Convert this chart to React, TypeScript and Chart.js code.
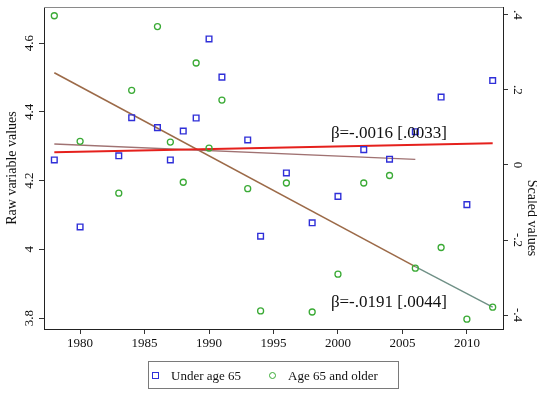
import React, { useEffect, useRef } from "react";
import { Chart, registerables } from "chart.js";

Chart.register(...registerables);

// ---- data ----
const years = [1978, 1980, 1983, 1984, 1986, 1987, 1988, 1989, 1990, 1991, 1993, 1994, 1996, 1998, 2000, 2002, 2004, 2006, 2008, 2010, 2012];
// Under age 65 (raw values, left axis)
const underAge65 = [4.26, 4.065, 4.272, 4.383, 4.354, 4.26, 4.344, 4.382, 4.612, 4.501, 4.318, 4.038, 4.222, 4.077, 4.154, 4.29, 4.262, 4.342, 4.443, 4.13, 4.491];
// Age 65 and older (scaled values, right axis)
const age65AndOlder = [0.398, 0.063, -0.075, 0.199, 0.369, 0.061, -0.046, 0.272, 0.045, 0.173, -0.063, -0.389, -0.048, -0.392, -0.291, -0.048, -0.028, -0.275, -0.22, -0.411, -0.379];

// fitted lines (scaled axis)
const redFitYears = [1978, 2012];
const redFitValues = [0.034, 0.058];
const flatFitYears = [1978, 2006];
const flatFitValues = [0.056, 0.015];
const steepFitYears = [1978, 2006];
const steepFitValues = [0.246, -0.271];
const projFitYears = [2006, 2012];
const projFitValues = [-0.271, -0.379];

// axis ticks
const xTicks = [1980, 1985, 1990, 1995, 2000, 2005, 2010];
const leftTicks = [3.8, 4.0, 4.2, 4.4, 4.6];
const rightTicks = [-0.4, -0.2, 0, 0.2, 0.4];

// annotation texts and their anchor (year, scaled value)
const noteTexts = ["β=-.0016 [.0033]", "β=-.0191 [.0044]"];
const noteYears = [1999.45, 1999.45];
const noteValues = [0.085, -0.367];

const legendLabels = ["Under age 65", "Age 65 and older"];
const leftTitle = "Raw variable values";
const rightTitle = "Scaled values";

const SERIF = '"Liberation Serif", "Times New Roman", Times, serif';
const BLUE = "#2f2fd8";
const GREEN = "#3aaa35";

const pts = (xs: number[], ys: number[]) => xs.map((x, i) => ({ x, y: ys[i] }));

const fmtLeft = (v: number) => (Math.abs(v - Math.round(v)) < 1e-9 ? String(Math.round(v)) : v.toFixed(1));
const fmtRight = (v: number) => {
  if (Math.abs(v) < 1e-9) return "0";
  const s = Math.abs(v).toFixed(1).replace(/^0/, "");
  return (v < 0 ? "-" : "") + s;
};

const overlay = {
  id: "overlay",
  afterDatasetsDraw(chart: any) {
    const { ctx, chartArea: a, scales } = chart;
    ctx.save();
    // top frame line
    ctx.strokeStyle = "#8a8a8a";
    ctx.lineWidth = 1;
    ctx.beginPath();
    ctx.moveTo(a.left, a.top + 0.5);
    ctx.lineTo(a.right, a.top + 0.5);
    ctx.stroke();
    // annotations
    ctx.font = "17px " + SERIF;
    ctx.fillStyle = "#111";
    ctx.textAlign = "left";
    ctx.textBaseline = "middle";
    noteTexts.forEach((t, i) => {
      ctx.fillText(t, scales.x.getPixelForValue(noteYears[i]), scales.y2.getPixelForValue(noteValues[i]));
    });
    // right axis title
    ctx.font = "14px " + SERIF;
    ctx.textAlign = "center";
    ctx.textBaseline = "middle";
    ctx.translate(chart.width - 5, (a.top + a.bottom) / 2 + 50);
    ctx.rotate(Math.PI / 2);
    ctx.fillText(rightTitle, 0, 0);
    ctx.restore();
  },
};

export default function App() {
  const ref = useRef<HTMLCanvasElement | null>(null);

  useEffect(() => {
    document.body.style.margin = "0";
    const canvas = ref.current!;
    const tickFont = { family: SERIF, size: 13 };
    const grid = { drawOnChartArea: false, drawTicks: true, tickLength: 5, color: "#333", lineWidth: 1 };
    const border = { display: true, color: "#222", width: 1 };
    const zeroPad = (s: any) => {
      s.paddingTop = 0;
      s.paddingBottom = 0;
      s.paddingLeft = 0;
      s.paddingRight = 0;
    };

    const chart = new Chart(canvas, {
      type: "scatter",
      data: {
        datasets: [
          {
            label: "red fit",
            data: pts(redFitYears, redFitValues),
            yAxisID: "y2",
            showLine: true,
            borderColor: "#e5201c",
            borderWidth: 2,
            pointRadius: 0,
            order: 3,
          },
          {
            label: "flat fit",
            data: pts(flatFitYears, flatFitValues),
            yAxisID: "y2",
            showLine: true,
            borderColor: "#a07272",
            borderWidth: 1.4,
            pointRadius: 0,
            order: 3,
          },
          {
            label: "steep fit",
            data: pts(steepFitYears, steepFitValues),
            yAxisID: "y2",
            showLine: true,
            borderColor: "#9c6a48",
            borderWidth: 1.6,
            pointRadius: 0,
            order: 3,
          },
          {
            label: "projection",
            data: pts(projFitYears, projFitValues),
            yAxisID: "y2",
            showLine: true,
            borderColor: "#6f9086",
            borderWidth: 1.4,
            pointRadius: 0,
            order: 3,
          },
          {
            label: legendLabels[0],
            data: pts(years, underAge65),
            yAxisID: "y",
            pointStyle: "rect",
            pointRadius: 4,
            pointBorderWidth: 1.4,
            borderColor: BLUE,
            backgroundColor: "rgba(0,0,0,0)",
            order: 1,
          },
          {
            label: legendLabels[1],
            data: pts(years, age65AndOlder),
            yAxisID: "y2",
            pointStyle: "circle",
            pointRadius: 3,
            pointBorderWidth: 1.3,
            borderColor: GREEN,
            backgroundColor: "rgba(0,0,0,0)",
            order: 2,
          },
        ],
      },
      options: {
        animation: false,
        responsive: false,
        events: [],
        layout: { padding: { top: 7, left: 0, right: 0, bottom: 0 } },
        plugins: { legend: { display: false }, tooltip: { enabled: false } },
        scales: {
          x: {
            type: "linear",
            position: "bottom",
            min: 1977.2,
            max: 2012.8,
            afterBuildTicks: (s: any) => {
              s.ticks = xTicks.map((v) => ({ value: v }));
            },
            afterFit: (s: any) => {
              s.height = 65;
              zeroPad(s);
            },
            ticks: {
              font: tickFont,
              color: "#111",
              padding: 2,
              maxRotation: 0,
              autoSkip: false,
              callback: (v: any) => String(v),
            },
            grid,
            border,
          },
          y: {
            type: "linear",
            position: "left",
            min: 3.768,
            max: 4.705,
            afterBuildTicks: (s: any) => {
              s.ticks = leftTicks.map((v) => ({ value: v }));
            },
            afterFit: (s: any) => {
              s.width = 44;
              zeroPad(s);
            },
            ticks: {
              font: tickFont,
              color: "#111",
              padding: 1,
              minRotation: 90,
              maxRotation: 90,
              crossAlign: "center",
              autoSkip: false,
              callback: (v: any) => fmtLeft(Number(v)),
            },
            title: {
              display: true,
              text: leftTitle,
              font: { family: SERIF, size: 14 },
              color: "#111",
              padding: { top: 4, bottom: 0 },
            },
            grid,
            border,
          },
          y2: {
            type: "linear",
            position: "right",
            min: -0.4373,
            max: 0.4213,
            afterBuildTicks: (s: any) => {
              s.ticks = rightTicks.map((v) => ({ value: v }));
            },
            afterFit: (s: any) => {
              s.width = 34;
              zeroPad(s);
            },
            ticks: {
              font: tickFont,
              color: "#111",
              padding: 2,
              minRotation: -90,
              maxRotation: -90,
              crossAlign: "center",
              autoSkip: false,
              callback: (v: any) => fmtRight(Number(v)),
            },
            grid,
            border,
          },
        },
      } as any,
      plugins: [overlay],
    });
    return () => chart.destroy();
  }, []);

  const legendText: React.CSSProperties = {
    position: "absolute",
    top: 0,
    lineHeight: "27px",
    fontSize: 13,
    fontFamily: SERIF,
    color: "#111",
    whiteSpace: "nowrap",
  };

  return (
    <div style={{ position: "absolute", left: 0, top: 0, width: 537, height: 394, background: "#fff", overflow: "hidden" }}>
      <canvas ref={ref} width={537} height={394} style={{ display: "block", width: 537, height: 394 }} />
      <div
        style={{
          position: "absolute",
          left: 148,
          top: 361,
          width: 249,
          height: 26,
          border: "1px solid #7a7a7a",
          boxSizing: "content-box",
        }}
      >
        <span
          style={{
            position: "absolute",
            left: 3,
            top: 10,
            width: 5,
            height: 5,
            border: "1.4px solid " + BLUE,
          }}
        />
        <span style={{ ...legendText, left: 22 }}>{legendLabels[0]}</span>
        <span
          style={{
            position: "absolute",
            left: 120,
            top: 10,
            width: 5,
            height: 5,
            borderRadius: "50%",
            border: "1.3px solid " + GREEN,
          }}
        />
        <span style={{ ...legendText, left: 139 }}>{legendLabels[1]}</span>
      </div>
    </div>
  );
}
